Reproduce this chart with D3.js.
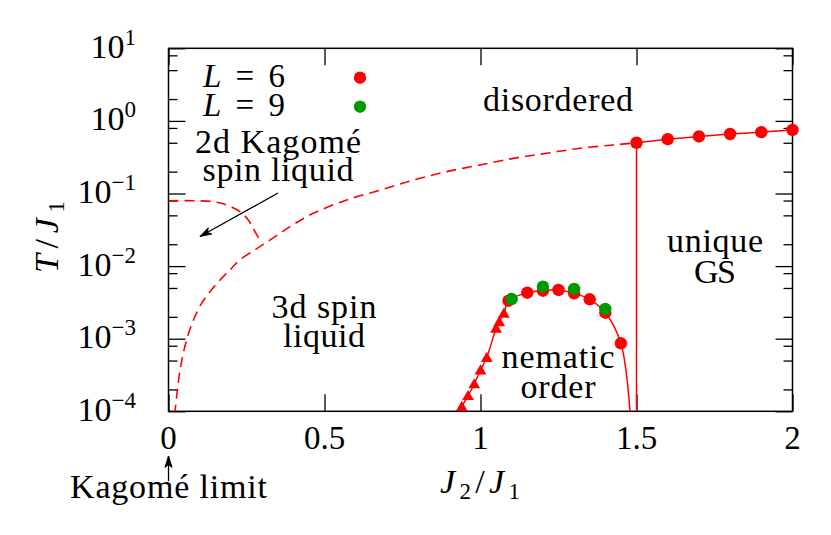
<!DOCTYPE html>
<html>
<head>
<meta charset="utf-8">
<script src="https://cdn.jsdelivr.net/npm/d3@7"></script>
<style>
  body { margin: 0; background: #fff; }
  svg text { font-family: "Liberation Serif", "Times New Roman", serif; fill: #000; }
</style>
</head>
<body>
<div class="container"></div>
<script>
// ---- data ----
const xTicks = [0, 0.5, 1, 1.5, 2];
const xTickLabels = ["0", "0.5", "1", "1.5", "2"];
const yDecades = [1e-4, 1e-3, 1e-2, 1e-1, 1, 10];
const yExponents = ["\u22124", "\u22123", "\u22122", "\u22121", "0", "1"];
const yMinorMant = [0.2, 0.5, 0.8];

// unique GS boundary (L=6)
const gsJ2 = [1.5, 1.6, 1.7, 1.8, 1.9, 2.0];
const gsT = [0.50, 0.56, 0.61, 0.66, 0.70, 0.75];

// nematic dome, L=6 circles
const nemJ2 = [1.09, 1.15, 1.20, 1.25, 1.30, 1.35, 1.40, 1.45];
const nemT = [0.00334, 0.0043, 0.00458, 0.00469, 0.00422, 0.00349, 0.00228, 0.000865];
// nematic dome, L=9 circles
const nem9J2 = [1.10, 1.20, 1.30, 1.40];
const nem9T = [0.00352, 0.0052, 0.00484, 0.00257];
// triangles
const triJ2 = [0.94, 0.96, 0.98, 1.00, 1.02, 1.05, 1.06, 1.075];
const triT = [1.16e-4, 1.64e-4, 2.38e-4, 3.7e-4, 5.5e-4, 1.39e-3, 1.71e-3, 2.24e-3];
// solid boundary of the dome
const domeJ2 = [0.925, 0.94, 0.96, 0.98, 1.00, 1.02, 1.05, 1.06, 1.075, 1.09, 1.15, 1.20, 1.25, 1.30, 1.35, 1.40, 1.45, 1.48];
const domeT = [0.9e-4, 1.16e-4, 1.64e-4, 2.38e-4, 3.7e-4, 5.5e-4, 1.39e-3, 1.71e-3, 2.24e-3, 0.00334, 0.0043, 0.00458, 0.00469, 0.00422, 0.00349, 0.00228, 0.000865, 0.9e-4];

// dashed crossover curve
const dashJ2 = [0.020, 0.037, 0.058, 0.080, 0.106, 0.133, 0.165, 0.197, 0.229, 0.293, 0.357, 0.389, 0.464, 0.571, 0.678, 0.785, 0.892, 0.998, 1.105, 1.212, 1.319, 1.426, 1.5];
const dashT = [0.9e-4, 3.7e-4, 9.6e-4, 1.81e-3, 3.07e-3, 4.44e-3, 6.44e-3, 8.84e-3, 0.0122, 0.0185, 0.0283, 0.0349, 0.0533, 0.0814, 0.111, 0.153, 0.200, 0.247, 0.305, 0.358, 0.420, 0.466, 0.50];

// 2d Kagome spin liquid dashed curve
const kagJ2 = [0, 0.08, 0.144, 0.187, 0.229, 0.256, 0.277, 0.299];
const kagT = [0.0796, 0.0796, 0.0771, 0.0695, 0.0561, 0.0431, 0.0298, 0.0206];

const RED = "#ff0000";
const GREEN = "#009900";
const FONT = "'Liberation Serif', 'Times New Roman', serif";

const W = 831, H = 535;
const svg = d3.select(".container").append("svg")
  .attr("width", W).attr("height", H)
  .attr("font-family", FONT);

const x = d3.scaleLinear().domain([0, 2]).range([168.5, 792.5]);
const y = d3.scaleLog().domain([1e-4, 10]).range([411.3, 48.3]);

svg.append("clipPath").attr("id", "clip")
  .append("rect")
  .attr("x", x(0)).attr("y", y(10))
  .attr("width", x(2) - x(0)).attr("height", y(1e-4) - y(10));

// ---- ticks ----
let minorVals = [];
yDecades.forEach(function (d) {
  yMinorMant.forEach(function (m) {
    const v = d * m;
    if (v > 1e-4 && v < 10) minorVals.push(v);
  });
});

function drawAxis(gen, tx, ty) {
  const g = svg.append("g").attr("transform", "translate(" + tx + "," + ty + ")").call(gen);
  g.select(".domain").remove();
  g.selectAll(".tick line").attr("stroke", "#000").attr("stroke-width", 1.3);
  g.selectAll(".tick text").remove();
}
drawAxis(d3.axisBottom(x).tickValues(xTicks).tickSize(-17), 0, y(1e-4));
drawAxis(d3.axisTop(x).tickValues(xTicks).tickSize(-17), 0, y(10));
drawAxis(d3.axisLeft(y).tickValues(yDecades).tickSize(-17), x(0), 0);
drawAxis(d3.axisRight(y).tickValues(yDecades).tickSize(-17), x(2), 0);
drawAxis(d3.axisLeft(y).tickValues(minorVals).tickSize(-9), x(0), 0);
drawAxis(d3.axisRight(y).tickValues(minorVals).tickSize(-9), x(2), 0);

// frame
svg.append("rect")
  .attr("x", x(0)).attr("y", y(10))
  .attr("width", x(2) - x(0)).attr("height", y(1e-4) - y(10))
  .attr("fill", "none").attr("stroke", "#000").attr("stroke-width", 1.5);

// tick labels
svg.selectAll(".xlab").data(xTicks).enter().append("text")
  .attr("x", d => x(d)).attr("y", 449)
  .attr("text-anchor", "middle").attr("font-size", 33)
  .text((d, i) => xTickLabels[i]);

const yl = svg.selectAll(".ylab").data(yDecades).enter().append("text")
  .attr("x", 136).attr("y", d => y(d) + 9.5)
  .attr("text-anchor", "end").attr("font-size", 34);
yl.append("tspan").text("10");
yl.append("tspan").attr("dy", -13).attr("font-size", 23).text((d, i) => yExponents[i]);

// ---- curves ----
const plot = svg.append("g").attr("clip-path", "url(#clip)");
function pts(a, b) { return a.map((v, i) => [x(v), y(b[i])]); }

plot.append("path")
  .attr("d", d3.line().curve(d3.curveCatmullRom)(pts(dashJ2, dashT)))
  .attr("fill", "none").attr("stroke", RED).attr("stroke-width", 1.6)
  .attr("stroke-dasharray", "10,6");

plot.append("path")
  .attr("d", d3.line().curve(d3.curveCatmullRom)(pts(kagJ2, kagT)))
  .attr("fill", "none").attr("stroke", RED).attr("stroke-width", 1.6)
  .attr("stroke-dasharray", "10,6");

plot.append("path")
  .attr("d", d3.line().curve(d3.curveCatmullRom)(pts(domeJ2, domeT)))
  .attr("fill", "none").attr("stroke", RED).attr("stroke-width", 1.5);

plot.append("path")
  .attr("d", d3.line()(pts(gsJ2, gsT)))
  .attr("fill", "none").attr("stroke", RED).attr("stroke-width", 1.5);

plot.append("line")
  .attr("x1", x(gsJ2[0])).attr("x2", x(gsJ2[0]))
  .attr("y1", y(gsT[0])).attr("y2", y(1e-4))
  .attr("stroke", RED).attr("stroke-width", 1.5);

// markers
const tri = d3.symbol().type(d3.symbolTriangle).size(60);
svg.selectAll(".tri").data(pts(triJ2, triT)).enter().append("path")
  .attr("d", tri).attr("transform", d => "translate(" + d[0] + "," + (d[1] + 1) + ")")
  .attr("fill", RED);

svg.selectAll(".c6").data(pts(nemJ2, nemT).concat(pts(gsJ2, gsT))).enter().append("circle")
  .attr("cx", d => d[0]).attr("cy", d => d[1]).attr("r", 6.2).attr("fill", RED);

svg.selectAll(".c9").data(pts(nem9J2, nem9T)).enter().append("circle")
  .attr("cx", d => d[0]).attr("cy", d => d[1]).attr("r", 6.2).attr("fill", GREEN);

// ---- legend ----
const leg = [["6", RED, 86.7, 77.7], ["9", GREEN, 115.7, 106.7]];
leg.forEach(function (l) {
  const t = svg.append("text").attr("x", 203).attr("y", l[2])
    .attr("font-size", 33).attr("textLength", 82).attr("lengthAdjust", "spacing");
  t.append("tspan").attr("font-style", "italic").text("L");
  t.append("tspan").text(" = " + l[0]);
  svg.append("circle").attr("cx", 360).attr("cy", l[3]).attr("r", 6.2).attr("fill", l[1]);
});

// ---- region labels: text, centre x, baseline y, width in the picture ----
const labels = [
  ["disordered", 558, 111, 150],
  ["2d Kagomé", 278, 153, 166],
  ["spin liquid", 278, 181, 151],
  ["unique", 715, 251.5, 96],
  ["GS", 715, 283, 42],
  ["3d spin", 324, 318, 105],
  ["liquid", 324, 347, 82],
  ["nematic", 558, 368, 113],
  ["order", 558, 398, 75],
  ["Kagomé limit", 168.5, 498, 197]
];
svg.selectAll(".lab").data(labels).enter().append("text")
  .attr("x", d => d[1] - d[3] / 2).attr("y", d => d[2])
  .attr("font-size", 34)
  .attr("textLength", d => d[3]).attr("lengthAdjust", "spacing")
  .text(d => d[0]);

// arrows
function arrow(x1, y1, x2, y2) {
  svg.append("line").attr("x1", x1).attr("y1", y1).attr("x2", x2).attr("y2", y2)
    .attr("stroke", "#000").attr("stroke-width", 1.3);
  const a = Math.atan2(y2 - y1, x2 - x1), L = 12, s = 0.3;
  const p1 = [x2 - L * Math.cos(a - s), y2 - L * Math.sin(a - s)];
  const p2 = [x2 - L * Math.cos(a + s), y2 - L * Math.sin(a + s)];
  svg.append("path")
    .attr("d", "M" + p1 + "L" + x2 + "," + y2 + "L" + p2 + "L" + (x2 - 0.7 * L * Math.cos(a)) + "," + (y2 - 0.7 * L * Math.sin(a)) + "Z")
    .attr("fill", "#000").attr("stroke", "#000").attr("stroke-width", 1);
}
arrow(278, 193, 200, 236.5);
arrow(168.5, 481, 168.5, 456);

// ---- axis titles ----
const xt = svg.append("text").attr("x", 440).attr("y", 493)
  .attr("font-size", 34).attr("textLength", 80).attr("lengthAdjust", "spacing");
xt.append("tspan").attr("font-style", "italic").text("J");
xt.append("tspan").attr("font-size", 23).attr("dy", 6).text("2");
xt.append("tspan").attr("dy", -6).text("/");
xt.append("tspan").attr("font-style", "italic").text("J");
xt.append("tspan").attr("font-size", 23).attr("dy", 6).text("1");

const ytl = svg.append("text")
  .attr("transform", "translate(58,273) rotate(-90)")
  .attr("font-size", 34).attr("textLength", 72).attr("lengthAdjust", "spacing");
ytl.append("tspan").attr("font-style", "italic").text("T");
ytl.append("tspan").text("/");
ytl.append("tspan").attr("font-style", "italic").text("J");
ytl.append("tspan").attr("font-size", 23).attr("dy", 6).text("1");
</script>
</body>
</html>
